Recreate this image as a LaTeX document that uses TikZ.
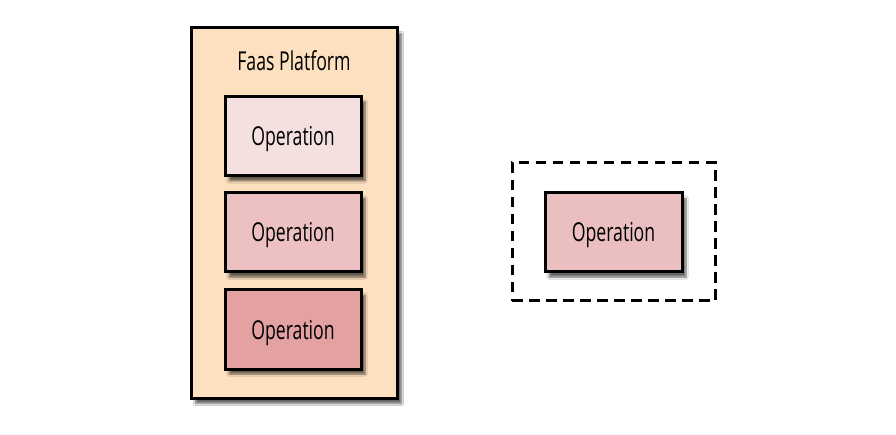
\documentclass[tikz,border=0pt]{standalone}
\usepackage{fontspec}
\setmainfont[FakeStretch=0.68]{Open Sans}
\usetikzlibrary{shadows.blur}
\definecolor{peach}{HTML}{FDE0BF}
\definecolor{opA}{HTML}{F5E0E0}
\definecolor{opB}{HTML}{EDC1C2}
\definecolor{opC}{HTML}{E3A1A1}
\definecolor{opR}{HTML}{EBBEC0}
\newcommand{\optext}{\raisebox{-3pt}[19pt][6pt]{Operation}}
\tikzset{
  lbl/.style={font=\fontsize{26}{29}\selectfont, text=black},
  box/.style={draw=black, line width=3pt, minimum width=136pt, minimum height=79pt, lbl,
    blur shadow={shadow xshift=4pt, shadow yshift=-5pt, shadow blur steps=7, shadow opacity=60}},
  platform/.style={draw=black, line width=3pt, fill=peach,
    blur shadow={shadow xshift=4.5pt, shadow yshift=-5.5pt, shadow blur steps=7, shadow opacity=60}},
  dashbox/.style={draw=black, line width=3pt, dash pattern=on 10.5pt off 6.5pt}
}
\begin{document}
\begin{tikzpicture}[x=1pt,y=-1pt]
\useasboundingbox (0,0) rectangle (896,435);
\fill[white] (0,0) rectangle (896,435);
\node[platform, minimum width=206pt, minimum height=370pt] (plat) at (294,213) {};
\node[lbl] (title) at (294,61) {Faas Platform};
\node[box, fill=opA] (op1) at (293,136.5) {\optext};
\node[box, fill=opB] (op2) at (293,232.5) {\optext};
\node[box, fill=opC] (op3) at (293,329.5) {\optext};
\node[dashbox, minimum width=203pt, minimum height=138pt] (lambda) at (613.5,232) {};
\node[box, fill=opR, minimum width=137pt] (opr) at (613.5,232.5) {\optext};
\end{tikzpicture}
\end{document}
